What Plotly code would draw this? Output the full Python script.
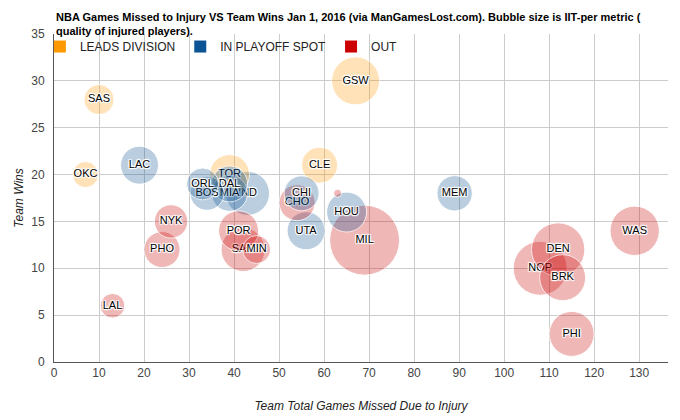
import plotly.graph_objects as go

# ---- data ----
teams = ["SAS", "OKC", "GSW", "CLE", "TOR", "LAC", "ORL", "BOS", "MIA", "IND",
         "DAL", "CHI", "HOU", "UTA", "MEM", "NYK", "PHO", "LAL", "POR", "SAC",
         "MIN", "CHO", "MIL", "DEN", "NOP", "BRK", "PHI", "WAS", ""]
games_missed = [10, 7, 67, 59, 39, 19, 33, 34, 39, 43,
                39, 55, 65, 56, 89, 26, 24, 13, 41, 42,
                45, 54, 69, 112, 108, 113, 115, 129, 63]
team_wins = [28, 20, 30, 21, 20, 21, 19, 18, 18, 18,
             19, 18, 16, 14, 18, 15, 12, 6, 14, 12,
             12, 17, 13, 12, 10, 9, 3, 14, 18]
status = ["LEADS DIVISION"] * 5 + ["IN PLAYOFF SPOT"] * 10 + ["OUT"] * 14
iit_per = [15, 13, 24, 18, 20, 19, 16, 17, 18, 22,
           18, 17.5, 20, 19, 17.7, 16.7, 18, 12.3, 20, 22,
           14, 18, 35, 26.7, 27, 23, 22.5, 24.7, 4]

groups = ["LEADS DIVISION", "IN PLAYOFF SPOT", "OUT"]
group_rgb = {"LEADS DIVISION": (255, 153, 0),
             "IN PLAYOFF SPOT": (11, 83, 148),
             "OUT": (204, 0, 0)}

title_text = ("NBA Games Missed to Injury VS Team Wins Jan 1, 2016 (via ManGamesLost.com). "
              "Bubble size is IIT-per metric (<br>quality of injured players).")

FONT = "Arial, 'Liberation Sans', sans-serif"
halo = ("1px 1px 1px #fff, -1px -1px 1px #fff, 1px -1px 1px #fff, "
        "-1px 1px 1px #fff, 0 1px 1px #fff, 0 -1px 1px #fff")

fig = go.Figure()

# bubbles drawn largest first (smaller ones on top), each with its own label
order = sorted(range(len(teams)), key=lambda i: -iit_per[i])
for i in order:
    r, g, b = group_rgb[status[i]]
    fig.add_trace(go.Scatter(
        x=[games_missed[i]], y=[team_wins[i]],
        mode="markers+text", text=[teams[i]], textposition="middle center",
        textfont=dict(family=FONT, size=11, color="#000", shadow=halo),
        marker=dict(size=[iit_per[i]], sizemode="diameter", sizeref=0.5,
                    color=f"rgba({r},{g},{b},0.4)",
                    line=dict(color="white", width=1)),
        showlegend=False, hoverinfo="text",
        hovertext=f"{teams[i]}: {games_missed[i]} games, {team_wins[i]} wins",
    ))

# legend entries
for gname in groups:
    r, g, b = group_rgb[gname]
    fig.add_trace(go.Scatter(
        x=[None], y=[None], mode="markers", name=gname,
        marker=dict(symbol="square", size=10, color=f"rgb({r},{g},{b})"),
    ))

fig.update_layout(
    width=672, height=412,
    margin=dict(l=46, r=12, t=26, b=57.5, autoexpand=False),
    paper_bgcolor="white", plot_bgcolor="white",
    font=dict(family=FONT, size=12, color="#444"),
    legend=dict(
        orientation="h", x=-0.023, xanchor="left", y=1.006, yanchor="top",
        bgcolor="rgba(0,0,0,0)", font=dict(family=FONT, size=12, color="#222"),
        itemsizing="constant",
    ),
    annotations=[dict(
        text=title_text, xref="paper", yref="paper", x=0, y=1.077,
        xanchor="left", yanchor="top", align="left", showarrow=False,
        font=dict(family=FONT, size=11, color="#000", weight="bold"),
    )],
    xaxis=dict(
        range=[0, 136.4], dtick=10, tick0=0, automargin=False,
        showgrid=True, gridcolor="#cccccc", gridwidth=1,
        zeroline=False, showline=True, linecolor="#555", linewidth=1,
        tickfont=dict(family=FONT, size=12, color="#444"),
        title=dict(text="Team Total Games Missed Due to Injury", standoff=22,
                   font=dict(family=FONT, size=12, color="#222", style="italic")),
    ),
    yaxis=dict(
        range=[0, 35], dtick=5, tick0=0, automargin=False,
        showgrid=True, gridcolor="#cccccc", gridwidth=1,
        zeroline=False, showline=True, linecolor="#555", linewidth=1,
        tickfont=dict(family=FONT, size=12, color="#444"),
        ticklabelstandoff=6,
        title=dict(text="Team Wins", standoff=5,
                   font=dict(family=FONT, size=12, color="#222", style="italic")),
    ),
)

fig.write_html("out.html")
